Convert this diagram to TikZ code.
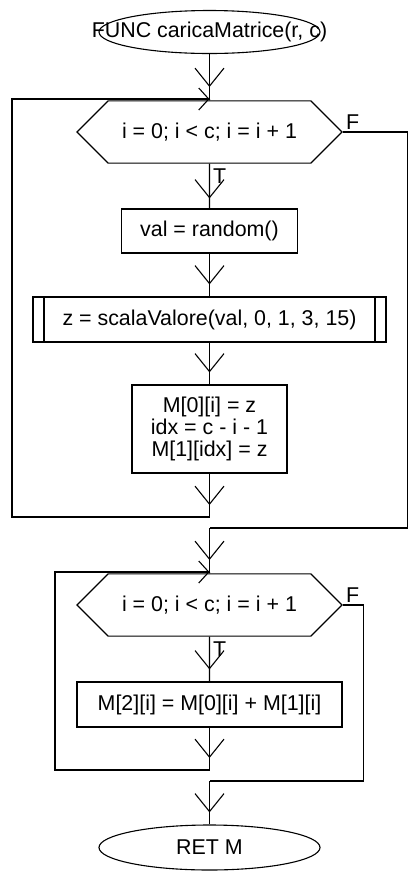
\documentclass[tikz,border=0pt]{standalone}
\usepackage{fontspec}
\setmainfont{Liberation Sans}
\usetikzlibrary{arrows.meta, shapes.geometric, shapes.misc, decorations.markings, positioning, calc}

\begin{document}
\begin{tikzpicture}[
    x=0.5pt, y=-0.5pt,
    every path/.style={line width=0.55pt},
    font=\fontsize{10.7pt}{11pt}\selectfont
]
    \tikzset{
        terminale/.style={ellipse, draw, inner sep=0pt, minimum width=110.5pt, minimum height=21.5pt},
        ciclo/.style={chamfered rectangle, draw, inner sep=0pt,
            chamfered rectangle xsep=11.5pt, chamfered rectangle ysep=11pt,
            minimum width=132.5pt, minimum height=22pt},
        istruzione/.style={rectangle, draw, inner sep=0pt, align=center},
        sottoprogramma/.style={istruzione, path picture={
            \draw ([xshift=5.5pt]path picture bounding box.north west) -- ([xshift=5.5pt]path picture bounding box.south west)
                  ([xshift=-5.5pt]path picture bounding box.north east) -- ([xshift=-5.5pt]path picture bounding box.south east);}},
        freccia/.style={postaction={decorate}, decoration={markings,
            mark=at position #1 with {\arrow{Straight Barb[length=9pt, width=14.5pt]}}}},
        freccia/.default=-6pt,
        ritorno/.style={-{Straight Barb[length=5pt, width=11pt]}},
        etichetta/.style={inner sep=0pt}
    }
    \useasboundingbox (0,0) rectangle (418,880);

    % Nodi
    \node[terminale, label=center:{FUNC caricaMatrice(r, c)}] (inizio) at (209.5,32) {};
    \node[ciclo] (ciclo1) at (209.5,132) {i = 0; i < c; i = i + 1};
    \node[istruzione, minimum width=88pt, minimum height=22pt] (casuale) at (209.5,231) {val = random()};
    \node[sottoprogramma, minimum width=176.5pt, minimum height=22.5pt] (scala) at (209.5,319.5) {z = scalaValore(val, 0, 1, 3, 15)};
    \node[istruzione, minimum width=77.5pt, minimum height=44pt] (assegna) at (209.5,429) {M[0][i] = z\\idx = c - i - 1\\M[1][idx] = z};
    \node[ciclo] (ciclo2) at (209.5,605) {i = 0; i < c; i = i + 1};
    \node[istruzione, minimum width=132.5pt, minimum height=22.5pt] (somma) at (209.5,704.5) {M[2][i] = M[0][i] + M[1][i]};
    \node[terminale, minimum height=22.5pt] (fine) at (209.5,847.5) {RET M};

    \coordinate (unione1) at (209.5,99);
    \coordinate (coda1)   at (209.5,517);
    \coordinate (uscita1) at (209.5,528);
    \coordinate (unione2) at (209.5,572);
    \coordinate (coda2)   at (209.5,770);
    \coordinate (uscita2) at (209.5,781);

    % Archi
    \draw[freccia] (inizio) -- (unione1);
    \draw (unione1) -- (ciclo1);
    \draw[freccia=-5pt] (ciclo1) -- node[etichetta, pos=0, anchor=north west, xshift=1.5pt, yshift=-2.5pt] {T} (casuale);
    \draw[freccia] (casuale) -- (scala);
    \draw[freccia] (scala) -- (assegna);
    \draw[freccia] (assegna) -- (coda1);
    \draw[ritorno] (coda1) -- ++(-197.5,0) |- (unione1);
    \draw (ciclo1.east) -- node[etichetta, pos=0, anchor=south west, xshift=1.5pt, yshift=1pt] {F} ++(65,0) |- (uscita1);
    \draw[freccia] (uscita1) -- (unione2);
    \draw (unione2) -- (ciclo2);
    \draw[freccia] (ciclo2) -- node[etichetta, pos=0, anchor=north west, xshift=1.5pt, yshift=-2.5pt] {T} (somma);
    \draw[freccia] (somma) -- (coda2);
    \draw[ritorno] (coda2) -- ++(-154.5,0) |- (unione2);
    \draw (ciclo2.east) -- node[etichetta, pos=0, anchor=south west, xshift=1.5pt, yshift=1pt] {F} ++(21,0) |- (uscita2);
    \draw[freccia] (uscita2) -- (fine);
\end{tikzpicture}
\end{document}
